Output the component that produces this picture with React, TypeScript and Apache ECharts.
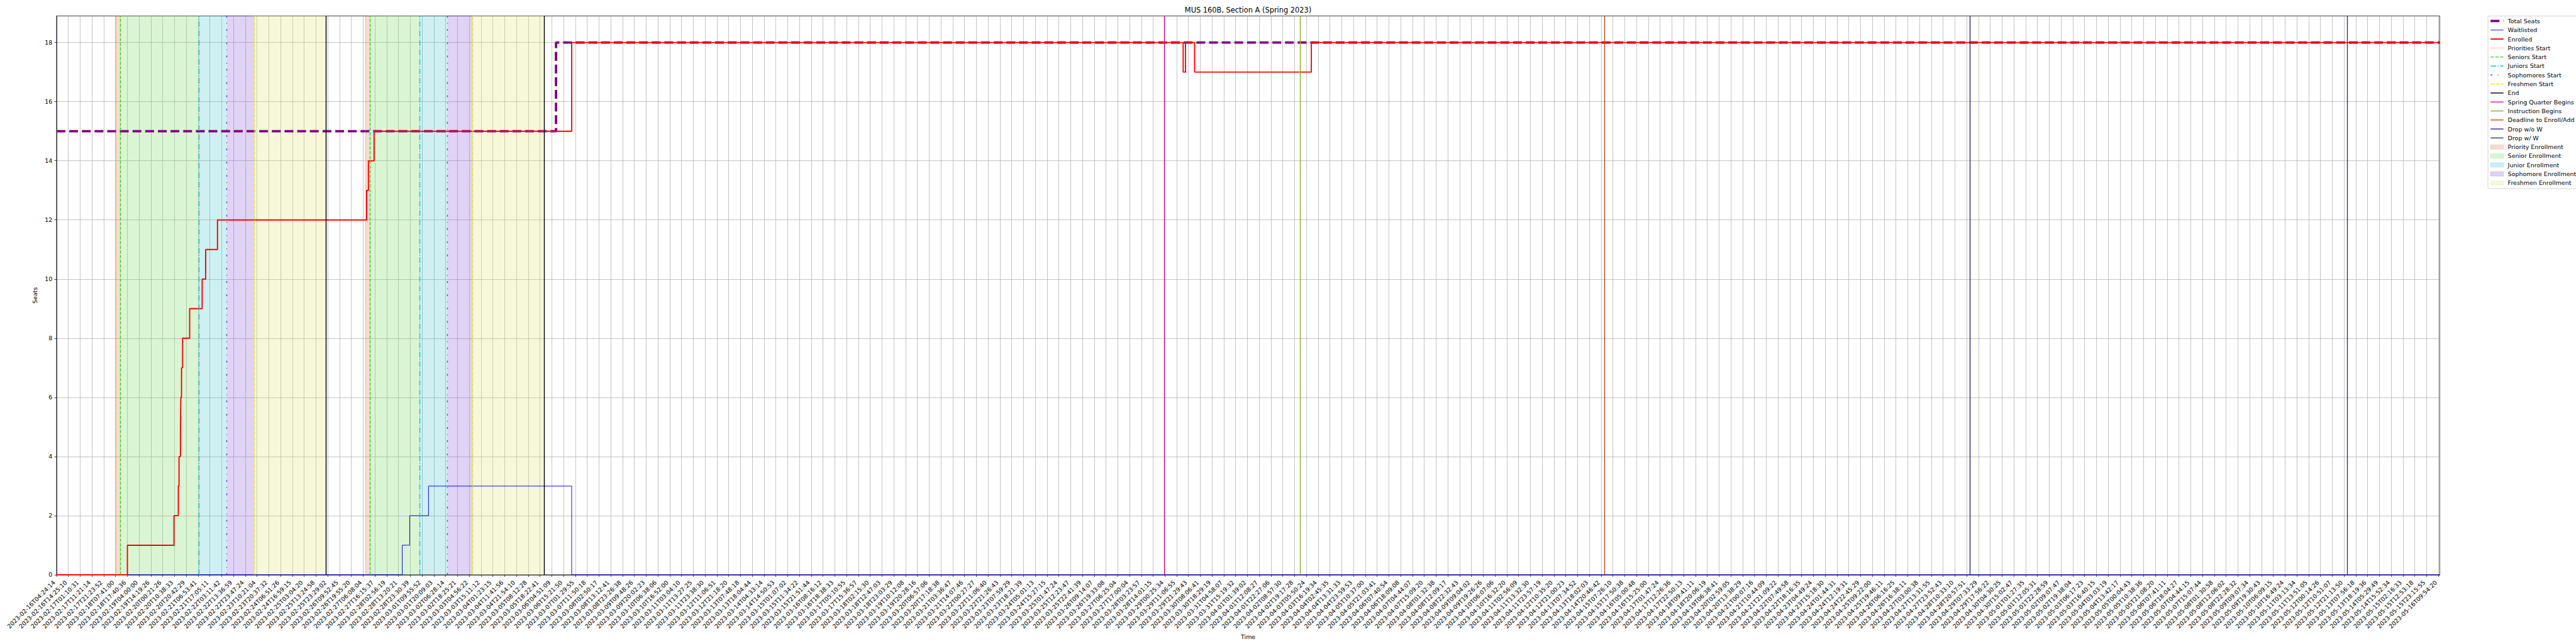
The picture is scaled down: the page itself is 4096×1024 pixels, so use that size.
import React, { useEffect, useRef } from 'react';
import * as echarts from 'echarts';

const FONT = 'DejaVu Sans';
const S = 4096 / 6000;
const px = (v: number) => v * S;

// ---------- tick labels (one per x tick, index = x position) ----------
const xTickLabels: string[] = [
  '2023-02-16T04:24:14', '2023-02-16T14:25:10', '2023-02-17T01:10:31', '2023-02-17T11:21:14', '2023-02-17T21:23:52',
  '2023-02-18T07:41:00', '2023-02-18T17:40:36', '2023-02-19T04:00:00', '2023-02-19T14:19:26', '2023-02-20T00:21:26',
  '2023-02-20T10:38:33', '2023-02-20T20:42:29', '2023-02-21T06:53:41', '2023-02-21T17:05:11', '2023-02-22T03:11:42',
  '2023-02-22T13:36:59', '2023-02-22T23:47:24', '2023-02-23T10:21:04', '2023-02-23T20:37:32', '2023-02-24T06:51:26',
  '2023-02-24T16:59:15', '2023-02-25T03:04:20', '2023-02-25T13:24:58', '2023-02-25T23:29:02', '2023-02-26T09:52:45',
  '2023-02-26T19:55:20', '2023-02-27T06:08:04', '2023-02-27T16:15:37', '2023-02-28T02:56:19', '2023-02-28T13:20:21',
  '2023-02-28T23:30:39', '2023-03-01T09:55:52', '2023-03-01T20:09:03', '2023-03-02T06:28:14', '2023-03-02T18:25:21',
  '2023-03-03T04:56:22', '2023-03-03T15:11:12', '2023-03-04T01:23:15', '2023-03-04T11:41:56', '2023-03-04T21:54:10',
  '2023-03-05T08:12:28', '2023-03-05T18:22:41', '2023-03-06T04:51:09', '2023-03-06T15:21:50', '2023-03-07T01:29:55',
  '2023-03-07T11:50:18', '2023-03-08T02:50:17', '2023-03-08T13:12:41', '2023-03-08T23:26:38', '2023-03-09T09:48:26',
  '2023-03-09T20:02:23', '2023-03-10T06:38:06', '2023-03-10T16:52:00', '2023-03-11T03:04:10', '2023-03-11T13:27:25',
  '2023-03-11T23:38:30', '2023-03-12T11:06:51', '2023-03-12T21:18:20', '2023-03-13T07:48:18', '2023-03-13T18:04:44',
  '2023-03-14T04:33:14', '2023-03-14T14:50:53', '2023-03-15T01:07:02', '2023-03-15T11:34:22', '2023-03-15T21:51:44',
  '2023-03-16T08:16:12', '2023-03-16T18:38:33', '2023-03-17T05:10:55', '2023-03-17T15:36:57', '2023-03-18T02:15:30',
  '2023-03-18T12:47:03', '2023-03-18T23:03:29', '2023-03-19T10:12:08', '2023-03-19T20:28:16', '2023-03-20T06:57:06',
  '2023-03-20T17:18:38', '2023-03-21T03:36:47', '2023-03-21T14:07:46', '2023-03-22T00:27:27', '2023-03-22T11:06:40',
  '2023-03-22T21:26:43', '2023-03-23T07:59:29', '2023-03-23T18:21:39', '2023-03-24T05:01:13', '2023-03-24T15:27:15',
  '2023-03-25T01:47:24', '2023-03-25T12:23:47', '2023-03-25T22:41:39', '2023-03-26T09:14:07', '2023-03-26T19:33:08',
  '2023-03-27T06:25:04', '2023-03-27T17:00:04', '2023-03-28T03:23:57', '2023-03-28T14:01:15', '2023-03-29T00:25:34',
  '2023-03-29T11:06:55', '2023-03-29T21:29:43', '2023-03-30T08:06:41', '2023-03-30T18:29:19', '2023-03-31T04:58:07',
  '2023-03-31T15:19:32', '2023-04-01T01:39:02', '2023-04-01T12:08:27', '2023-04-01T22:27:06', '2023-04-02T08:57:30',
  '2023-04-02T19:17:28', '2023-04-03T05:50:24', '2023-04-03T16:19:34', '2023-04-04T02:45:35', '2023-04-04T13:31:33',
  '2023-04-04T23:59:53', '2023-04-05T10:37:00', '2023-04-05T21:03:41', '2023-04-06T07:40:54', '2023-04-06T18:09:08',
  '2023-04-07T04:44:07', '2023-04-07T15:09:20', '2023-04-08T01:32:38', '2023-04-08T12:09:17', '2023-04-08T22:32:43',
  '2023-04-09T09:04:02', '2023-04-09T19:26:26', '2023-04-10T06:07:06', '2023-04-10T16:32:20', '2023-04-11T02:56:09',
  '2023-04-11T13:32:30', '2023-04-11T23:57:19', '2023-04-12T10:35:20', '2023-04-12T21:00:23', '2023-04-13T07:34:52',
  '2023-04-13T18:02:03', '2023-04-14T20:46:42', '2023-04-15T07:26:10', '2023-04-15T17:50:38', '2023-04-16T05:00:48',
  '2023-04-16T15:25:00', '2023-04-17T01:47:24', '2023-04-17T12:26:36', '2023-04-17T22:50:13', '2023-04-18T09:41:11',
  '2023-04-18T20:06:19', '2023-04-19T06:38:41', '2023-04-20T02:59:05', '2023-04-20T13:38:29', '2023-04-21T00:07:16',
  '2023-04-21T10:44:09', '2023-04-21T21:09:22', '2023-04-22T07:49:58', '2023-04-22T18:16:35', '2023-04-23T04:49:24',
  '2023-04-23T15:18:30', '2023-04-24T01:44:31', '2023-04-24T12:19:31', '2023-04-24T22:45:29', '2023-04-25T09:22:00',
  '2023-04-25T19:46:11', '2023-04-26T06:16:25', '2023-04-26T16:38:11', '2023-04-27T03:00:38', '2023-04-27T13:31:55',
  '2023-04-27T23:52:43', '2023-04-28T10:33:10', '2023-04-28T20:57:51', '2023-04-29T07:33:29', '2023-04-29T17:56:22',
  '2023-04-30T04:30:25', '2023-04-30T15:02:47', '2023-05-01T01:27:35', '2023-05-01T12:05:31', '2023-05-01T22:28:59',
  '2023-05-02T09:07:47', '2023-05-02T19:38:04', '2023-05-03T06:17:23', '2023-05-03T16:40:15', '2023-05-04T03:03:19',
  '2023-05-04T13:42:17', '2023-05-05T00:04:43', '2023-05-05T10:38:36', '2023-05-05T21:08:20', '2023-05-06T07:41:11',
  '2023-05-06T18:04:27', '2023-05-07T04:44:15', '2023-05-07T15:07:44', '2023-05-08T01:30:58', '2023-05-08T12:06:02',
  '2023-05-08T22:28:32', '2023-05-09T09:07:34', '2023-05-09T19:30:43', '2023-05-10T06:09:15', '2023-05-10T16:49:24',
  '2023-05-11T03:13:34', '2023-05-11T13:51:05', '2023-05-12T00:14:26', '2023-05-12T10:51:07', '2023-05-12T21:13:50',
  '2023-05-13T07:56:18', '2023-05-13T18:19:36', '2023-05-14T05:29:49', '2023-05-14T15:52:34', '2023-05-15T02:16:33',
  '2023-05-15T12:53:18', '2023-05-15T23:15:55', '2023-05-16T09:54:20',
];
const X_MAX = 202.12;
const Y_MAX = 18.9;
const yTickValues = [0, 2, 4, 6, 8, 10, 12, 14, 16, 18];

// ---------- step series (x in tick-index units, value held until next change) ----------
const totalSeatsX = [0, 42.36];
const totalSeatsY = [15, 18];

const waitlistedX = [0, 29.32, 29.95, 31.55, 43.69];
const waitlistedY = [0, 1, 2, 3, 0];

const enrolledX = [0, 6.01, 9.96, 10.33, 10.39, 10.51, 10.54, 10.6, 10.69, 11.29, 12.35, 12.65, 13.65,
  26.3, 26.45, 26.93, 43.69, 95.55, 95.75, 96.52, 106.42];
const enrolledY = [0, 1, 2, 3, 4, 5, 6, 7, 8, 9, 10, 11, 12, 13, 14, 15, 18, 17, 18, 17, 18];

// ---------- event lines ----------
const prioritiesStart = [5.01, 26.2];
const seniorsStart = [5.43, 26.58];
const juniorsStart = [12.07, 30.82];
const sophomoresStart = [14.44, 33.14];
const freshmenStart = [16.76, 35.29];
const endLines = [22.86, 41.34];
const springQuarterBegins = [93.96];
const instructionBegins = [105.46];
const deadlineEnroll = [131.3];
const dropNoW = [162.29];
const dropW = [194.25];

// ---------- enrollment windows ----------
const priorityBands = [[5.01, 5.43], [26.2, 26.58]];
const seniorBands = [[5.43, 12.07], [26.58, 30.82]];
const juniorBands = [[12.07, 14.44], [30.82, 33.14]];
const sophomoreBands = [[14.44, 16.76], [33.14, 35.29]];
const freshmenBands = [[16.76, 22.86], [35.29, 41.34]];

function stepData(xs: number[], ys: number[]) {
  const d = xs.map((x, i) => [x, ys[i]]);
  d.push([X_MAX, ys[ys.length - 1]]);
  return d;
}

function vlineSeries(name: string, xs: number[], color: string, width: number, dash: any) {
  return {
    name,
    type: 'line',
    data: [],
    symbol: 'none',
    silent: true,
    z: 5,
    itemStyle: { color },
    lineStyle: { color, width, type: dash },
    markLine: {
      silent: true,
      animation: false,
      symbol: ['none', 'none'],
      label: { show: false },
      emphasis: { disabled: true },
      lineStyle: { color, width, type: dash },
      data: xs.map((x) => ({ xAxis: x })),
    },
  };
}

function bandSeries(name: string, bands: number[][], color: string) {
  return {
    name,
    type: 'line',
    data: [],
    symbol: 'none',
    silent: true,
    z: 1,
    itemStyle: { color },
    lineStyle: { color, width: 0 },
    markArea: {
      silent: true,
      animation: false,
      itemStyle: { color },
      emphasis: { disabled: true },
      data: bands.map(([a, b]) => [{ xAxis: a }, { xAxis: b }]),
    },
  };
}

const C = {
  total: '#800080',
  wait: '#0000ff',
  enrolled: '#ff0000',
  prio: '#ee7234',
  senior: '#3ccc22',
  junior: '#10c8d2',
  soph: '#7030e0',
  fresh: '#dede22',
  end: '#000000',
  spring: '#e6149a',
  instr: '#8cb30c',
  deadline: '#d0461c',
  dropNoW: '#2e2a88',
  dropW: '#2f3e5e',
};
const BAND = {
  prio: 'rgba(215,119,67,0.25)',
  senior: 'rgba(107,215,79,0.25)',
  junior: 'rgba(59,195,203,0.25)',
  soph: 'rgba(131,79,215,0.25)',
  fresh: 'rgba(223,227,107,0.25)',
};
const BAND_EDGE = {
  prio: 'rgba(215,119,67,0.35)',
  senior: 'rgba(107,215,79,0.35)',
  junior: 'rgba(59,195,203,0.35)',
  soph: 'rgba(131,79,215,0.35)',
  fresh: 'rgba(223,227,107,0.35)',
};

const W1 = px(1.39); // 1pt
const W15 = px(2.08); // 1.5pt

function buildOption() {
  const series: any[] = [
    bandSeries('Priority Enrollment', priorityBands, BAND.prio),
    bandSeries('Senior Enrollment', seniorBands, BAND.senior),
    bandSeries('Junior Enrollment', juniorBands, BAND.junior),
    bandSeries('Sophomore Enrollment', sophomoreBands, BAND.soph),
    bandSeries('Freshmen Enrollment', freshmenBands, BAND.fresh),
    {
      name: 'Total Seats', type: 'line', step: 'end', symbol: 'none', silent: true, z: 3,
      data: stepData(totalSeatsX, totalSeatsY),
      itemStyle: { color: C.total },
      lineStyle: { color: C.total, width: px(5.56), type: [px(20.6), px(8.9)] },
    },
    {
      name: 'Waitlisted', type: 'line', step: 'end', symbol: 'none', silent: true, z: 3,
      data: stepData(waitlistedX, waitlistedY),
      itemStyle: { color: C.wait },
      lineStyle: { color: C.wait, width: W1 },
    },
    {
      name: 'Enrolled', type: 'line', step: 'end', symbol: 'none', silent: true, z: 4,
      data: stepData(enrolledX, enrolledY),
      itemStyle: { color: C.enrolled },
      lineStyle: { color: C.enrolled, width: px(2.78) },
    },
    vlineSeries('Priorities Start', prioritiesStart, C.prio, W1, [px(1.39), px(2.29)]),
    vlineSeries('Seniors Start', seniorsStart, C.senior, W15, [px(7.7), px(3.3)]),
    vlineSeries('Juniors Start', juniorsStart, C.junior, W15, [px(13.3), px(3.3), px(2.1), px(3.3)]),
    vlineSeries('Sophomores Start', sophomoresStart, C.soph, W15, [px(4.3), px(12.5), px(1.6), px(12.5)]),
    vlineSeries('Freshmen Start', freshmenStart, C.fresh, W15, [px(6.25), px(2.1), px(2.1), px(2.1)]),
    vlineSeries('End', endLines, C.end, W15, 'solid'),
    vlineSeries('Spring Quarter Begins', springQuarterBegins, C.spring, W15, 'solid'),
    vlineSeries('Instruction Begins', instructionBegins, C.instr, W15, 'solid'),
    vlineSeries('Deadline to Enroll/Add', deadlineEnroll, C.deadline, W15, 'solid'),
    vlineSeries('Drop w/o W', dropNoW, C.dropNoW, W15, 'solid'),
    vlineSeries('Drop w/ W', dropW, C.dropW, W15, 'solid'),
  ];

  const lineLegend = (name: string, width: number) => ({ name, itemStyle: { opacity: 0 }, lineStyle: { width } });
  const rectLegend = (name: string, key: keyof typeof BAND) => ({
    name, icon: 'rect', itemStyle: { color: BAND[key], borderColor: BAND_EDGE[key], borderWidth: 0.7, opacity: 1 },
  });

  const legendData = [
    lineLegend('Total Seats', px(5.56)),
    lineLegend('Waitlisted', W1),
    lineLegend('Enrolled', px(2.78)),
    lineLegend('Priorities Start', W15),
    lineLegend('Seniors Start', W15),
    lineLegend('Juniors Start', W15),
    lineLegend('Sophomores Start', W15),
    lineLegend('Freshmen Start', W15),
    lineLegend('End', W15),
    lineLegend('Spring Quarter Begins', W15),
    lineLegend('Instruction Begins', W15),
    lineLegend('Deadline to Enroll/Add', W15),
    lineLegend('Drop w/o W', W15),
    lineLegend('Drop w/ W', W15),
    rectLegend('Priority Enrollment', 'prio'),
    rectLegend('Senior Enrollment', 'senior'),
    rectLegend('Junior Enrollment', 'junior'),
    rectLegend('Sophomore Enrollment', 'soph'),
    rectLegend('Freshmen Enrollment', 'fresh'),
  ];

  const xTickValues = xTickLabels.map((_, i) => i);
  const fs = px(13.9);
  const axisLineStyle = { color: '#000', width: px(1.11) };
  const gridLine = { show: true, lineStyle: { color: '#b0b0b0', width: px(1.11) } };

  return {
    animation: false,
    backgroundColor: '#ffffff',
    textStyle: { fontFamily: FONT },
    title: {
      text: 'MUS 160B, Section A (Spring 2023)',
      left: px(2907),
      top: px(23.3),
      padding: 0,
      textAlign: 'center',
      textVerticalAlign: 'middle',
      textStyle: { fontFamily: FONT, fontSize: px(16.7), fontWeight: 'normal', color: '#000' },
    },
    legend: {
      orient: 'vertical',
      left: px(5795),
      top: px(37.3),
      padding: [3, 3, 4, 2.2],
      itemGap: 4.3,
      itemWidth: px(30),
      itemHeight: px(10),
      selectedMode: false,
      backgroundColor: 'rgba(255,255,255,0.8)',
      borderColor: '#cccccc',
      borderWidth: 0.8,
      borderRadius: 2,
      textStyle: { fontFamily: FONT, fontSize: fs, color: '#000', lineHeight: 10, padding: [0, 0, 0, 2] },
      data: legendData,
    },
    grid: {
      left: px(131.7),
      right: 4096 - px(5682.6),
      top: px(37.1),
      bottom: 1024 - px(1338.8),
      show: true,
      borderColor: '#000',
      borderWidth: px(1.11),
      backgroundColor: 'transparent',
      containLabel: false,
      outerBoundsMode: 'none',
    },
    xAxis: {
      type: 'value',
      min: 0,
      max: X_MAX,
      interval: 1,
      name: 'Time',
      nameLocation: 'middle',
      nameGap: 84,
      nameTextStyle: { fontFamily: FONT, fontSize: fs, color: '#000' },
      axisLine: { show: true, onZero: false, lineStyle: axisLineStyle },
      axisTick: { show: true, length: px(4.86), lineStyle: axisLineStyle, customValues: xTickValues },
      axisLabel: {
        show: true,
        rotate: 45,
        margin: 6.6,
        padding: [0, 5.5, 0, 0],
        fontFamily: FONT,
        fontSize: fs,
        color: '#000',
        customValues: xTickValues,
        showMinLabel: true,
        showMaxLabel: true,
        formatter: (v: number) => (Math.abs(v - Math.round(v)) < 1e-6 ? xTickLabels[Math.round(v)] ?? '' : ''),
      },
      splitLine: gridLine,
    },
    yAxis: {
      type: 'value',
      min: 0,
      max: Y_MAX,
      interval: 2,
      name: 'Seats',
      nameLocation: 'middle',
      nameGap: 23,
      nameRotate: 90,
      nameTextStyle: { fontFamily: FONT, fontSize: fs, color: '#000' },
      axisLine: { show: true, onZero: false, lineStyle: axisLineStyle },
      axisTick: { show: true, length: px(4.86), lineStyle: axisLineStyle, customValues: yTickValues },
      axisLabel: {
        show: true,
        margin: 6.6,
        fontFamily: FONT,
        fontSize: fs,
        color: '#000',
        customValues: yTickValues,
        showMinLabel: true,
        showMaxLabel: true,
        formatter: (v: number) => (yTickValues.includes(v) ? String(v) : ''),
      },
      splitLine: gridLine,
    },
    series,
  };
}

export default function App() {
  const ref = useRef<HTMLDivElement>(null);
  useEffect(() => {
    if (!ref.current) return;
    const chart = echarts.init(ref.current, null, { renderer: 'svg' });
    chart.setOption(buildOption() as any);
    return () => chart.dispose();
  }, []);
  return (
    <div
      ref={ref}
      style={{ position: 'absolute', left: 0, top: 0, width: 4096, height: 1024, background: '#fff' }}
    />
  );
}
